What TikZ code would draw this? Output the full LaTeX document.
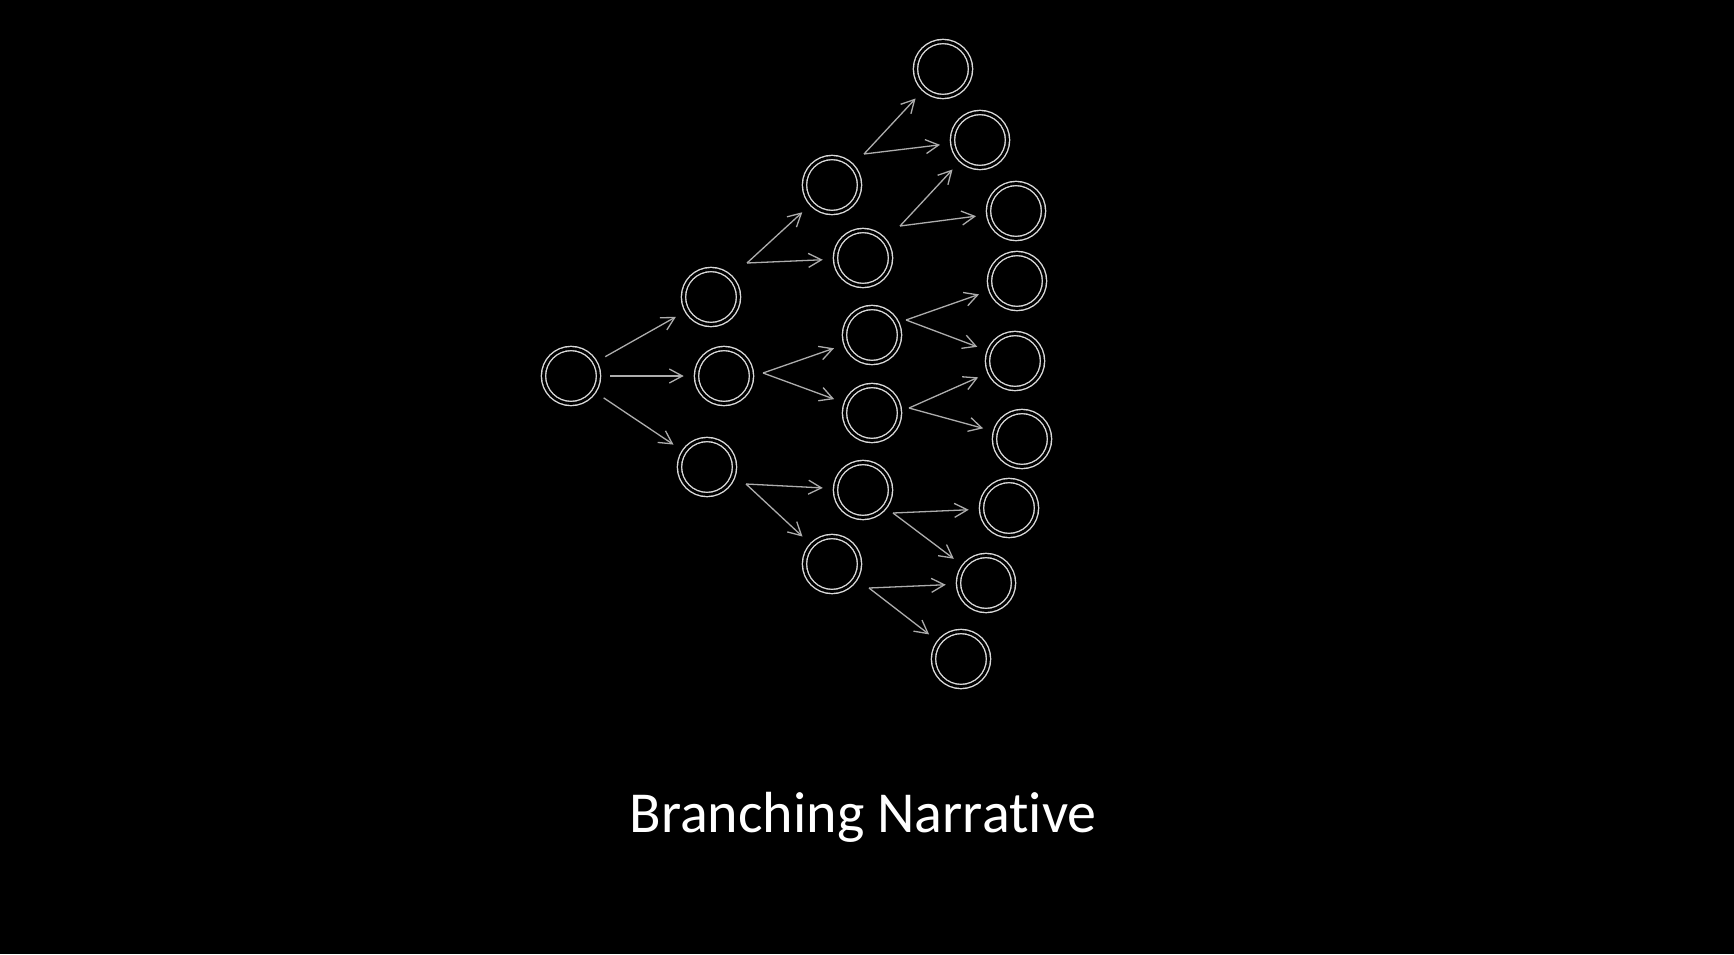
\documentclass[tikz,border=0pt]{standalone}
\usepackage{fontspec}
\setmainfont{Carlito}[Ligatures=NoCommon]
\usetikzlibrary{arrows.meta}
\begin{document}
\begin{tikzpicture}[x=1pt,y=-1pt,
  ring/.style={circle,draw=white!85!black,line width=1.4pt,double=black,double distance=2.8pt,minimum size=55pt,inner sep=0pt,outer sep=2.8pt},
  arr/.style={draw=white!68!black,line width=1.3pt,-{Straight Barb[length=13pt,width=14pt,line width=1.3pt]},shorten >=10pt},
  rarr/.style={arr,shorten <=9pt}]
\fill[black] (0,0) rectangle (1734,954);
\useasboundingbox (0,0) rectangle (1734,954);
% nodes
\node[ring] (r) at (571,376) {};
\node[ring] (a1) at (711,297) {};
\node[ring] (a2) at (724,376) {};
\node[ring] (a3) at (707,467) {};
\node[ring] (b1) at (832,185) {};
\node[ring] (b2) at (863,258) {};
\node[ring] (b3) at (872,335) {};
\node[ring] (b4) at (872,413) {};
\node[ring] (b5) at (863,490) {};
\node[ring] (b6) at (832,564) {};
\node[ring] (c1) at (943,69) {};
\node[ring] (c2) at (980,140) {};
\node[ring] (c3) at (1016,211) {};
\node[ring] (c4) at (1017,281) {};
\node[ring] (c5) at (1015,361) {};
\node[ring] (c6) at (1022,439) {};
\node[ring] (c7) at (1009,508) {};
\node[ring] (c8) at (986,583) {};
\node[ring] (c9) at (961,659) {};
% branch start points
\coordinate (s1) at (747,263);
\coordinate (s2) at (763,373);
\coordinate (s3) at (746,484);
\coordinate (s4) at (864,154);
\coordinate (s5) at (900,226);
\coordinate (s6) at (906,320);
\coordinate (s7) at (909,408);
\coordinate (s8) at (893,513);
\coordinate (s9) at (869,588);
% arrows
\draw[rarr] (r) -- (a1);
\draw[rarr] (r) -- (a2);
\draw[rarr] (r) -- (a3);
\draw[arr] (s1) -- (b1);
\draw[arr] (s1) -- (b2);
\draw[arr] (s2) -- (b3);
\draw[arr] (s2) -- (b4);
\draw[arr] (s3) -- (b5);
\draw[arr] (s3) -- (b6);
\draw[arr] (s4) -- (c1);
\draw[arr] (s4) -- (c2);
\draw[arr] (s5) -- (c2);
\draw[arr] (s5) -- (c3);
\draw[arr] (s6) -- (c4);
\draw[arr] (s6) -- (c5);
\draw[arr] (s7) -- (c5);
\draw[arr] (s7) -- (c6);
\draw[arr] (s8) -- (c7);
\draw[arr] (s8) -- (c8);
\draw[arr] (s9) -- (c8);
\draw[arr] (s9) -- (c9);
% title
\node[anchor=base,text=white,font=\fontsize{58pt}{70pt}\selectfont,inner sep=0pt] (t) at (863,832) {Branching Narrative};
\end{tikzpicture}
\end{document}
